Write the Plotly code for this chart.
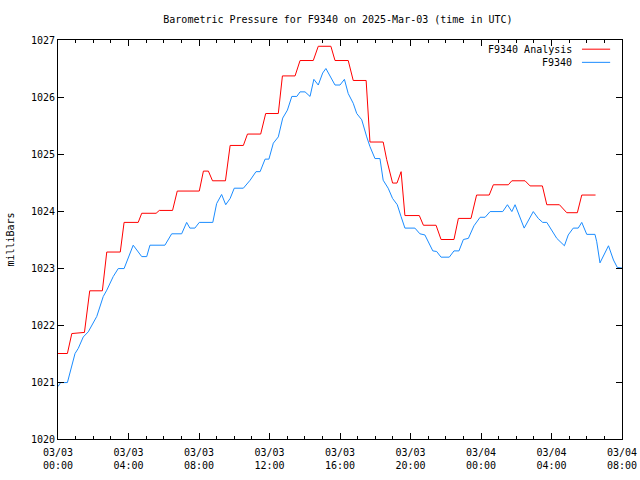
import datetime as dt
import plotly.graph_objects as go

BASE = dt.datetime(2025, 3, 3, 0, 0)

# Analysis series (minutes after 03/03 00:00 UTC, millibars)
analysis_min = [0, 32, 47, 90, 108, 151, 166, 212, 225, 273, 285, 334, 345, 390, 406, 481,
                495, 512, 526, 570, 586, 631, 645, 690, 707, 750, 764, 807, 824, 869, 886,
                929, 943, 988, 1005, 1049, 1062, 1107, 1119, 1139, 1154, 1168, 1181, 1230,
                1244, 1287, 1304, 1348, 1363, 1406, 1425, 1468, 1482, 1533, 1545, 1590,
                1607, 1649, 1664, 1707, 1732, 1768, 1783, 1830]
analysis_val = [1021.50, 1021.50, 1021.85, 1021.87, 1022.60, 1022.60, 1023.28, 1023.28,
                1023.80, 1023.80, 1023.96, 1023.96, 1024.01, 1024.01, 1024.35, 1024.35,
                1024.70, 1024.70, 1024.53, 1024.53, 1025.15, 1025.15, 1025.35, 1025.35,
                1025.71, 1025.71, 1026.37, 1026.37, 1026.64, 1026.64, 1026.89, 1026.89,
                1026.64, 1026.64, 1026.29, 1026.29, 1025.21, 1025.21, 1024.90, 1024.49,
                1024.49, 1024.69, 1023.92, 1023.92, 1023.75, 1023.75, 1023.50, 1023.50,
                1023.87, 1023.87, 1024.28, 1024.28, 1024.46, 1024.46, 1024.53, 1024.53,
                1024.44, 1024.44, 1024.11, 1024.11, 1023.97, 1023.97, 1024.28, 1024.28]

# Observed series
obs_min = [0, 9, 32, 47, 58, 69, 86, 103, 120, 132, 154, 166, 188, 205, 225, 256, 285, 302,
           313, 364, 387, 421, 438, 449, 466, 481, 527, 540, 557, 571, 586, 600, 631, 654,
           674, 688, 705, 718, 733, 750, 765, 781, 796, 813, 824, 841, 858, 871, 886, 901,
           912, 926, 943, 960, 975, 988, 1005, 1017, 1034, 1051, 1062, 1079, 1096, 1107,
           1124, 1139, 1155, 1168, 1181, 1215, 1232, 1249, 1276, 1289, 1304, 1332, 1348,
           1365, 1380, 1397, 1416, 1437, 1454, 1471, 1514, 1530, 1545, 1556, 1587, 1618,
           1635, 1650, 1664, 1698, 1724, 1737, 1754, 1771, 1783, 1800, 1828, 1834, 1845,
           1874, 1891, 1904, 1920]
obs_val = [1020.92, 1020.99, 1020.99, 1021.27, 1021.50, 1021.59, 1021.79, 1021.88, 1022.03,
           1022.15, 1022.50, 1022.61, 1022.85, 1022.99, 1022.99, 1023.40, 1023.20, 1023.20,
           1023.40, 1023.40, 1023.60, 1023.60, 1023.80, 1023.70, 1023.70, 1023.80, 1023.80,
           1024.13, 1024.29, 1024.11, 1024.22, 1024.40, 1024.40, 1024.54, 1024.69, 1024.69,
           1024.91, 1024.91, 1025.19, 1025.30, 1025.63, 1025.77, 1026.01, 1026.01, 1026.09,
           1026.09, 1026.01, 1026.31, 1026.21, 1026.42, 1026.50, 1026.36, 1026.21, 1026.21,
           1026.31, 1026.06, 1025.89, 1025.71, 1025.60, 1025.30, 1025.13, 1024.92, 1024.92,
           1024.54, 1024.40, 1024.22, 1024.11, 1023.90, 1023.70, 1023.70, 1023.60, 1023.58,
           1023.30, 1023.29, 1023.19, 1023.19, 1023.30, 1023.30, 1023.50, 1023.52, 1023.74,
           1023.89, 1023.89, 1023.99, 1023.99, 1024.11, 1023.99, 1024.11, 1023.70, 1023.99,
           1023.87, 1023.80, 1023.80, 1023.52, 1023.39, 1023.58, 1023.70, 1023.70, 1023.80,
           1023.59, 1023.59, 1023.46, 1023.09, 1023.39, 1023.14, 1023.01, 1023.00]

tick_hours = [0, 4, 8, 12, 16, 20, 24, 28, 32]
tick_labels = ["03/03<br>00:00", "03/03<br>04:00", "03/03<br>08:00", "03/03<br>12:00",
               "03/03<br>16:00", "03/03<br>20:00", "03/04<br>00:00", "03/04<br>04:00",
               "03/04<br>08:00"]
y_ticks = [1020, 1021, 1022, 1023, 1024, 1025, 1026, 1027]

names = ["F9340 Analysis", "F9340"]
colors = ["#ff0000", "#1a8cff"]
title = "Barometric Pressure for F9340 on 2025-Mar-03 (time in UTC)"
ylabel = "milliBars"

def to_t(m):
    return BASE + dt.timedelta(minutes=m)

FONT = "DejaVu Sans Mono"

fig = go.Figure()
fig.add_trace(go.Scatter(x=[to_t(m) for m in analysis_min], y=analysis_val, mode="lines",
                         line=dict(color=colors[0], width=1), name=names[0], showlegend=False))
fig.add_trace(go.Scatter(x=[to_t(m) for m in obs_min], y=obs_val, mode="lines",
                         line=dict(color=colors[1], width=1), name=names[1], showlegend=False))

axis_common = dict(showline=True, linecolor="black", linewidth=1, mirror="ticks",
                   ticks="inside", tickcolor="black", showgrid=False, zeroline=False,
                   automargin=False, ticklabeloverflow="allow",
                   tickfont=dict(family=FONT, size=10, color="black"))

fig.update_xaxes(type="date", range=[to_t(0), to_t(32 * 60)],
                 tickvals=[to_t(h * 60) for h in tick_hours], ticktext=tick_labels,
                 ticklen=6, ticklabelstandoff=4,
                 minor=dict(ticks="inside", ticklen=3, tickcolor="black",
                            tickvals=[to_t(h * 60) for h in range(0, 33)]),
                 **axis_common)
fig.update_yaxes(range=[1020, 1027], tickvals=y_ticks, ticklen=6,
                 title=dict(text=ylabel, font=dict(family=FONT, size=10, color="black"), standoff=14),
                 **axis_common)

# gnuplot-style legend (text right-aligned, sample line to the right)
for i, (nm, col) in enumerate(zip(names, colors)):
    yy = 0.977 - i * 0.033
    fig.add_annotation(xref="paper", yref="paper", x=0.915, y=yy, text=nm, showarrow=False,
                       xanchor="right", yanchor="middle",
                       font=dict(family=FONT, size=10, color="black"))
    fig.add_shape(type="line", xref="paper", yref="paper", x0=0.929, x1=0.979, y0=yy, y1=yy,
                  line=dict(color=col, width=1))

fig.update_layout(
    width=640, height=480,
    margin=dict(l=58, r=18, t=40, b=41),
    paper_bgcolor="white", plot_bgcolor="white",
    title=dict(text=title, x=0.528, xanchor="center", y=0.96, yanchor="middle",
               font=dict(family=FONT, size=10, color="black")),
)

fig.write_html("out.html", config={"displayModeBar": False},
               post_script="document.body.style.margin='0';document.body.style.overflow='hidden';")
